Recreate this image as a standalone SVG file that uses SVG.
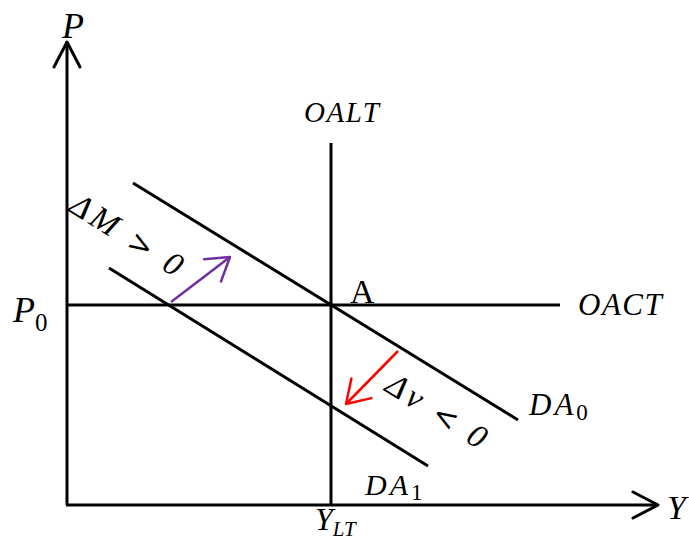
<svg xmlns="http://www.w3.org/2000/svg" width="689" height="543" viewBox="0 0 689 543">
<defs>
<style>
.ln{stroke:#000;stroke-width:3;fill:none;stroke-linecap:butt}
.lbl{font-family:"Liberation Serif","DejaVu Serif",serif;font-style:italic;fill:#000}
.up{font-family:"Liberation Serif","DejaVu Serif",serif;fill:#000}
.rot{font-family:"Liberation Serif","DejaVu Serif",serif;font-style:italic;font-size:33px;fill:#000}
.rel{font-family:"DejaVu Sans","Liberation Sans",sans-serif;font-style:normal;font-size:30px}
</style>
<marker id="ah-k" markerUnits="userSpaceOnUse" markerWidth="40" markerHeight="40" refX="0" refY="0" orient="auto" overflow="visible">
<path d="M-25,-13 L0,0 L-25,13" fill="none" stroke="#000" stroke-width="3" stroke-linejoin="round" stroke-linecap="round"/>
</marker>
<marker id="ah-p" markerUnits="userSpaceOnUse" markerWidth="40" markerHeight="40" refX="0" refY="0" orient="auto" overflow="visible">
<path d="M-22,-14 L0,0 L-22,14" fill="none" stroke="#7030A0" stroke-width="2.5" stroke-linejoin="round" stroke-linecap="round"/>
</marker>
<marker id="ah-r" markerUnits="userSpaceOnUse" markerWidth="40" markerHeight="40" refX="0" refY="0" orient="auto" overflow="visible">
<path d="M-22,-14 L0,0 L-22,14" fill="none" stroke="#FF0000" stroke-width="2.5" stroke-linejoin="round" stroke-linecap="round"/>
</marker>
</defs>
<rect width="689" height="543" fill="#fff"/>
<g id="connectors">
<line id="p-axis" class="ln" x1="67" y1="505" x2="67" y2="42" marker-end="url(#ah-k)"/>
<line id="y-axis" class="ln" x1="66" y1="505" x2="658" y2="505" marker-end="url(#ah-k)"/>
<line id="oalt-line" class="ln" x1="331" y1="143" x2="331" y2="505"/>
<line id="oact-line" class="ln" x1="67" y1="305" x2="560" y2="305"/>
<line id="da0-line" class="ln" x1="133" y1="183" x2="518" y2="420"/>
<line id="da1-line" class="ln" x1="109" y1="268" x2="428" y2="466"/>
<line id="dm-arrow" x1="171" y1="302" x2="230" y2="257" stroke="#7030A0" stroke-width="2.5" marker-end="url(#ah-p)"/>
<line id="dv-arrow" x1="398" y1="351" x2="346" y2="404" stroke="#FF0000" stroke-width="2.5" marker-end="url(#ah-r)"/>
</g>
<g id="label-P"><text class="lbl" x="62" y="38" font-size="36">P</text></g>
<g id="label-Y"><text class="lbl" x="667" y="519" font-size="34">Y</text></g>
<g id="label-OALT"><text class="lbl" x="304" y="122" font-size="29" letter-spacing="1.5">OALT</text></g>
<g id="label-OACT"><text class="lbl" x="578" y="315" font-size="31" letter-spacing="1.5">OACT</text></g>
<g id="point-A"><text class="up" x="350" y="303" font-size="34">A</text></g>
<g id="label-P0"><text class="lbl" x="13" y="322" font-size="36">P<tspan class="up" font-style="normal" font-size="25" dy="9">0</tspan></text></g>
<g id="label-DA0"><text class="lbl" x="529" y="415" font-size="31" letter-spacing="3">DA<tspan font-style="normal" font-size="23" dy="5" letter-spacing="0">0</tspan></text></g>
<g id="label-DA1"><text class="lbl" x="365" y="495" font-size="30" letter-spacing="3">DA<tspan font-style="normal" font-size="23" dy="5" letter-spacing="0">1</tspan></text></g>
<g id="label-YLT"><text class="lbl" x="315" y="530" font-size="32">Y<tspan font-size="21" dy="6">LT</tspan></text></g>
<g id="label-dM"><text class="rot" text-anchor="middle" transform="translate(121,244) rotate(32)" textLength="126" lengthAdjust="spacing">ΔM <tspan class="rel">&gt;</tspan> 0</text></g>
<g id="label-dv"><text class="rot" text-anchor="middle" transform="translate(431,420) rotate(32)" textLength="112" lengthAdjust="spacing">Δv <tspan class="rel">&lt;</tspan> 0</text></g>
</svg>
